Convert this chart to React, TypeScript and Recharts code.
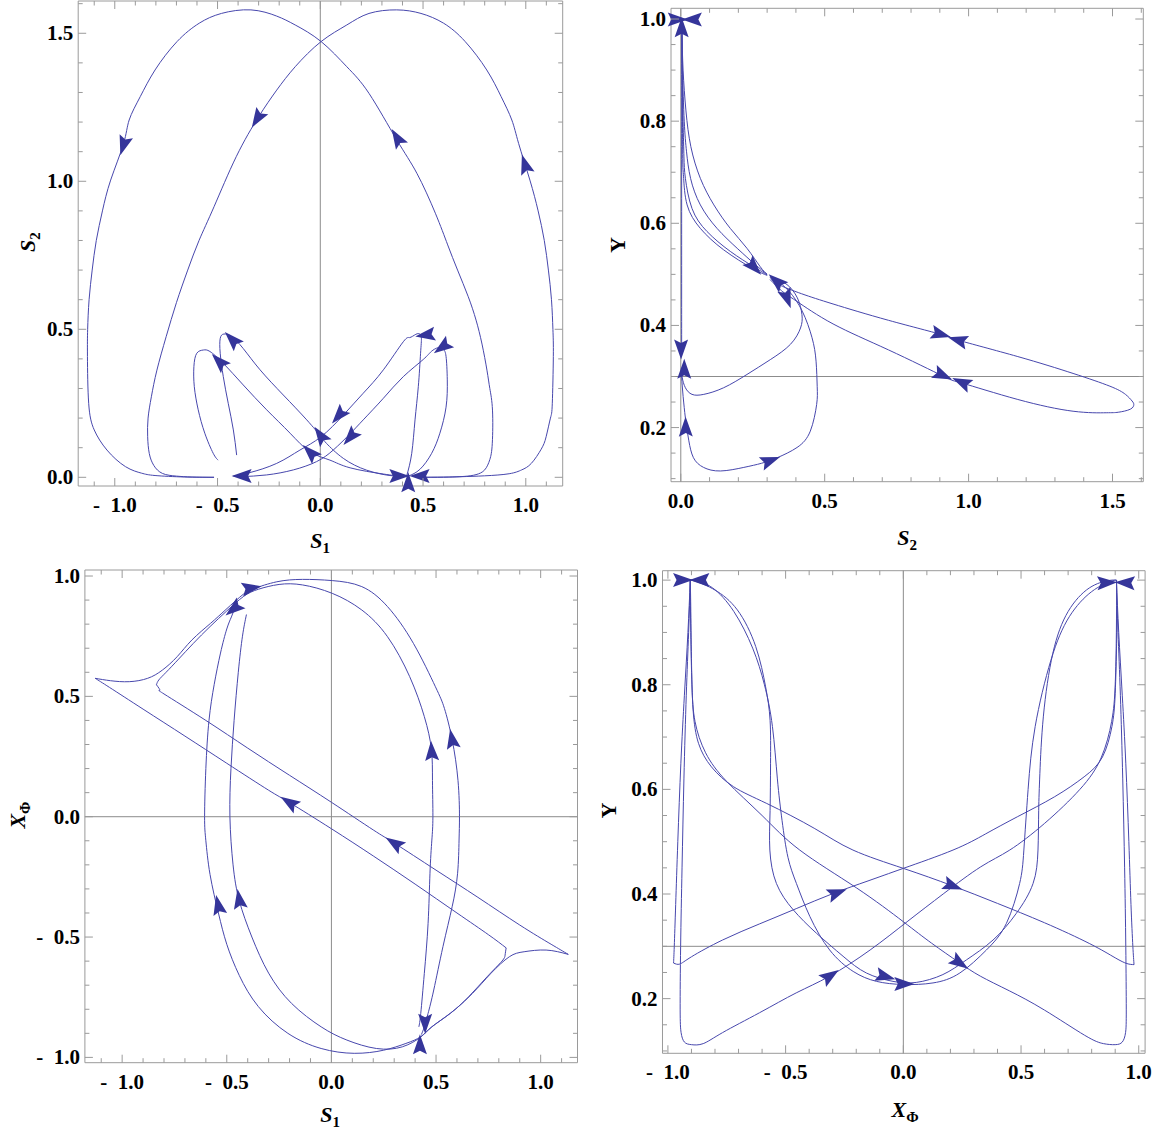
import React from 'react';
import { ComposedChart, Line, Scatter, XAxis, YAxis, ReferenceLine, ReferenceArea } from 'recharts';

type Pt = [number, number];
type Arrow = [number, number, number, number];

// ---------- Panel 1 : S1 vs S2 ----------
const P1_X_TICKS = [-1, -0.5, 0, 0.5, 1];
const P1_Y_TICKS = [0, 0.5, 1, 1.5];
const P1_LEFT_ARC: Pt[] = [[0.47,0],[0.6,0.0005],[0.7,0.003],[0.758,0.009],[0.8,0.025],[0.825,0.06],[0.837,0.115],[0.838,0.227],[0.825,0.3],[0.811,0.362],[0.787,0.45],[0.758,0.531],[0.72,0.61],[0.668,0.7],[0.62,0.785],[0.56,0.892],[0.47,1.027],[0.372,1.14],[0.237,1.297],[0.129,1.387],[0.004,1.472],[-0.122,1.528],[-0.212,1.558],[-0.3375,1.579],[-0.481,1.567],[-0.589,1.534],[-0.697,1.472],[-0.804,1.376],[-0.876,1.286],[-0.93,1.207],[-0.957,1.128],[-1.02,1.004],[-1.06,0.9],[-1.09,0.8],[-1.11,0.7],[-1.125,0.6],[-1.132,0.5],[-1.133,0.408],[-1.127,0.25],[-1.1,0.16],[-1.038,0.092],[-0.948,0.036],[-0.87,0.014],[-0.804,0.006],[-0.66,0.001],[-0.517,0]];
const P1_RIGHT_ARC: Pt[] = [[0.47,0],[0.6,0.0005],[0.686,0.002],[0.8,0.005],[0.919,0.012],[0.98,0.025],[1.027,0.047],[1.075,0.095],[1.099,0.137],[1.12,0.2],[1.129,0.25],[1.134,0.408],[1.132,0.5],[1.125,0.6],[1.11,0.7],[1.09,0.8],[1.06,0.9],[1.02,1.004],[0.965,1.128],[0.932,1.207],[0.88,1.286],[0.81,1.376],[0.705,1.472],[0.6,1.534],[0.49,1.567],[0.372,1.579],[0.237,1.567],[0.129,1.528],[0.004,1.472],[-0.122,1.387],[-0.212,1.308],[-0.3,1.218],[-0.409,1.083],[-0.517,0.914],[-0.59,0.8],[-0.645,0.7],[-0.7,0.59],[-0.75,0.475],[-0.795,0.362],[-0.822,0.272],[-0.838,0.2],[-0.84,0.137],[-0.832,0.08],[-0.81,0.04],[-0.768,0.013],[-0.7,0.004],[-0.625,0.001],[-0.517,0]];
const P1_RR1: Pt[] = [[0.42,0.004],[0.445,0.081],[0.461,0.194],[0.477,0.306],[0.488,0.419],[0.492,0.47],[0.484,0.484],[0.465,0.483],[0.435,0.472],[0.404,0.458],[0.307,0.363],[0.209,0.284],[0.112,0.21],[0.004,0.137],[-0.099,0.092],[-0.212,0.047],[-0.342,0.016],[-0.423,0.004]];
const P1_RR2: Pt[] = [[0.428,0.004],[0.485,0.027],[0.542,0.081],[0.582,0.149],[0.612,0.237],[0.618,0.329],[0.612,0.408],[0.599,0.432],[0.575,0.438],[0.54,0.425],[0.501,0.398],[0.404,0.34],[0.307,0.267],[0.209,0.194],[0.145,0.147],[0.063,0.092],[-0.018,0.053],[-0.131,0.025],[-0.261,0.008],[-0.39,0.002]];
const P1_LL1: Pt[] = [[0.412,0.004],[0.339,0.006],[0.226,0.024],[0.112,0.064],[0.031,0.114],[0.004,0.137],[-0.066,0.194],[-0.18,0.278],[-0.293,0.363],[-0.375,0.435],[-0.431,0.475],[-0.469,0.484],[-0.487,0.469],[-0.487,0.419],[-0.472,0.34],[-0.448,0.25],[-0.423,0.16],[-0.407,0.075]];
const P1_LL2: Pt[] = [[0.404,0.002],[0.307,0.011],[0.145,0.032],[0.047,0.058],[-0.05,0.086],[-0.147,0.149],[-0.261,0.228],[-0.375,0.312],[-0.472,0.385],[-0.537,0.425],[-0.569,0.43],[-0.601,0.419],[-0.615,0.374],[-0.613,0.306],[-0.594,0.228],[-0.562,0.149],[-0.521,0.081],[-0.497,0.058]];
const P1_ARROWS: Arrow[] = [[-0.957,1.123,-0.09,-0.2],[-0.305,1.213,-0.2,-0.225],[0.375,1.145,-0.233,0.27],[0.997,1.055,-0.09,0.2],[-0.378,0.004,-1,0],[0.38,0.004,1,0],[0.488,0.004,-1,0],[0.428,-0.02,0,1],[0.002,0.14,-0.1,0.1],[-0.047,0.083,-0.1,0.07],[0.092,0.21,-0.1,-0.08],[0.148,0.137,-0.1,-0.08],[-0.49,0.39,-0.1,0.07],[-0.427,0.464,-0.056,0.04],[0.515,0.481,-1,-0.1],[0.596,0.441,-1,-0.5]];

// ---------- Panel 2 : S2 vs Y ----------
const P2_X_TICKS = [0, 0.5, 1, 1.5];
const P2_Y_TICKS = [0.2, 0.4, 0.6, 0.8, 1.0];
const P2_V: Pt[] = [[0.003,0.975],[0.003,0.8],[0.003,0.6],[0.003,0.45],[0.003,0.345]];
const P2_C1: Pt[] = [[0.004,0.975],[0.008,0.9],[0.018,0.82],[0.035,0.75],[0.068,0.688],[0.115,0.636],[0.172,0.59],[0.23,0.551],[0.276,0.515],[0.3,0.5]];
const P2_C2: Pt[] = [[0.004,0.975],[0.006,0.9],[0.012,0.8],[0.02,0.74],[0.034,0.688],[0.068,0.636],[0.126,0.59],[0.196,0.551],[0.259,0.519],[0.3,0.5]];
const P2_C3: Pt[] = [[0.004,0.975],[0.005,0.9],[0.008,0.8],[0.011,0.73],[0.016,0.688],[0.039,0.629],[0.091,0.584],[0.172,0.545],[0.253,0.515],[0.3,0.499]];
const P2_C4: Pt[] = [[0.004,0.975],[0.005,0.9],[0.006,0.8],[0.007,0.72],[0.01,0.688],[0.022,0.636],[0.068,0.59],[0.149,0.548],[0.248,0.512],[0.3,0.498]];
const P2_BIG_LOOP: Pt[] = [[0.31,0.495],[0.337,0.481],[0.42,0.462],[0.529,0.442],[0.722,0.41],[0.914,0.381],[0.965,0.371],[1.171,0.339],[1.363,0.306],[1.491,0.281],[1.545,0.265],[1.568,0.252],[1.574,0.245],[1.562,0.236],[1.52,0.23],[1.478,0.229],[1.363,0.232],[1.171,0.255],[0.978,0.287],[0.914,0.3],[0.722,0.352],[0.529,0.403],[0.401,0.448],[0.35,0.468],[0.31,0.49]];
const P2_SMALL_LOOP: Pt[] = [[0.33,0.49],[0.369,0.48],[0.405,0.454],[0.421,0.421],[0.416,0.395],[0.381,0.363],[0.311,0.333],[0.23,0.304],[0.149,0.278],[0.08,0.265],[0.039,0.265],[0.016,0.278],[0.005,0.298],[0.002,0.317]];
const P2_LOW_LOOP: Pt[] = [[0.33,0.49],[0.376,0.467],[0.422,0.428],[0.456,0.376],[0.47,0.33],[0.474,0.28],[0.472,0.245],[0.45,0.193],[0.404,0.161],[0.335,0.141],[0.28,0.13],[0.219,0.122],[0.138,0.115],[0.079,0.122],[0.044,0.141],[0.028,0.174],[0.018,0.21],[0.01,0.25],[0.004,0.29],[0.003,0.31]];
const P2_ARROWS: Arrow[] = [[-0.014,0.999,1,0],[0.042,0.999,-1,0],[0.003,0.982,0,1],[0.253,0.515,0.1,-0.06],[0.334,0.486,-0.1,0.05],[0.369,0.454,0.045,-0.07],[0.901,0.383,1,-0.158],[0.965,0.371,-1,0.158],[0.908,0.303,1,-0.254],[0.978,0.288,-1,0.254],[0.001,0.355,0,-1],[0.012,0.313,0,1],[0.017,0.2,-0.02,1],[0.309,0.135,1,0.21]];

// ---------- Panel 3 : S1 vs X_Phi ----------
const P3_X_TICKS = [-1, -0.5, 0, 0.5, 1];
const P3_Y_TICKS = [-1, -0.5, 0, 0.5, 1];
const P3_A: Pt[] = [[0.43,-0.905],[0.444,-0.873],[0.462,-0.817],[0.489,-0.72],[0.533,-0.54],[0.577,-0.374],[0.603,-0.235],[0.61,-0.097],[0.612,0],[0.605,0.15],[0.577,0.32],[0.54,0.45],[0.497,0.54],[0.392,0.72],[0.268,0.873],[0.145,0.956],[0.004,0.981],[-0.138,0.986],[-0.261,0.976],[-0.367,0.949],[-0.42,0.925],[-0.504,0.861],[-0.578,0.803],[-0.667,0.734],[-0.737,0.665],[-0.808,0.609],[-0.878,0.575],[-0.966,0.561],[-1.055,0.565],[-1.129,0.575]];
const P3_B: Pt[] = [[-1.129,0.575],[-1.06,0.537],[-0.9,0.447],[-0.7,0.335],[-0.5,0.222],[-0.3,0.11],[-0.199,0.058],[0.0,-0.05],[0.2,-0.163],[0.4,-0.28],[0.6,-0.4],[0.75,-0.49],[0.835,-0.545]];
const P3_B2: Pt[] = [[0.835,-0.545],[0.83,-0.575],[0.815,-0.6],[0.744,-0.665],[0.656,-0.748],[0.568,-0.817],[0.48,-0.873],[0.427,-0.915],[0.339,-0.956],[0.215,-0.963],[0.074,-0.928],[-0.049,-0.873],[-0.19,-0.776],[-0.3,-0.65],[-0.38,-0.5],[-0.44,-0.35],[-0.47,-0.2],[-0.485,0],[-0.48,0.2],[-0.465,0.4],[-0.445,0.6],[-0.425,0.75],[-0.406,0.84]];
const P3_C: Pt[] = [[0.418,-0.873],[0.427,-0.817],[0.444,-0.651],[0.462,-0.443],[0.471,-0.235],[0.48,-0.097],[0.485,0],[0.483,0.15],[0.478,0.28],[0.444,0.416],[0.374,0.582],[0.268,0.748],[0.145,0.859],[0.004,0.928],[-0.138,0.963],[-0.25,0.965],[-0.349,0.945],[-0.42,0.915],[-0.5,0.855],[-0.58,0.79],[-0.66,0.72],[-0.73,0.655],[-0.79,0.6],[-0.825,0.568],[-0.836,0.548]];
const P3_D: Pt[] = [[-0.836,0.548],[-0.82,0.525],[-0.8,0.51],[-0.6,0.4],[-0.4,0.285],[-0.2,0.172],[0.0,0.06],[0.2,-0.055],[0.303,-0.111],[0.5,-0.222],[0.7,-0.335],[0.9,-0.45],[1.05,-0.53],[1.132,-0.572]];
const P3_E: Pt[] = [[1.132,-0.572],[1.026,-0.554],[0.921,-0.561],[0.85,-0.582],[0.762,-0.651],[0.674,-0.734],[0.568,-0.817],[0.48,-0.873],[0.427,-0.914],[0.356,-0.942],[0.25,-0.97],[0.109,-0.983],[-0.049,-0.963],[-0.208,-0.9],[-0.349,-0.789],[-0.44,-0.66],[-0.5,-0.53],[-0.54,-0.4],[-0.58,-0.24],[-0.6,-0.1],[-0.606,0],[-0.6,0.2],[-0.585,0.4],[-0.56,0.55],[-0.53,0.68],[-0.5,0.78],[-0.478,0.83],[-0.46,0.87]];
const P3_ARROWS: Arrow[] = [[-0.199,0.058,-1,0.55],[0.303,-0.111,-1,0.565],[-0.54,-0.37,-0.04,0.16],[-0.44,-0.345,-0.03,0.15],[0.479,0.27,-0.01,0.15],[0.577,0.32,-0.065,0.3],[-0.385,0.95,1,0.15],[-0.465,0.865,-1,-0.7],[0.448,-0.856,0,-1],[0.423,-0.949,0,1]];

// ---------- Panel 4 : X_Phi vs Y ----------
const P4_X_TICKS = [-1, -0.5, 0, 0.5, 1];
const P4_Y_TICKS = [0.2, 0.4, 0.6, 0.8, 1.0];
const P4_L1A: Pt[] = [[-0.905,1.0],[-0.915,0.9],[-0.93,0.78],[-0.945,0.65],[-0.958,0.5],[-0.967,0.38],[-0.973,0.3],[-0.976,0.268]];
const P4_L1B: Pt[] = [[-0.976,0.268],[-0.95,0.266],[-0.9,0.28],[-0.768,0.312],[-0.61,0.343],[-0.455,0.372],[-0.298,0.401],[-0.15,0.425],[0.0,0.449],[0.211,0.484],[0.35,0.515],[0.486,0.548],[0.643,0.586],[0.768,0.624],[0.846,0.662],[0.886,0.72],[0.9,0.783],[0.906,0.879],[0.907,0.927]];
const P4_L2: Pt[] = [[-0.905,1.0],[-0.912,0.9],[-0.922,0.78],[-0.932,0.62],[-0.94,0.45],[-0.946,0.3],[-0.948,0.18],[-0.944,0.135],[-0.93,0.117],[-0.9,0.112],[-0.85,0.114],[-0.768,0.135],[-0.611,0.173],[-0.455,0.211],[-0.313,0.243],[-0.141,0.293],[0.016,0.347],[0.172,0.401],[0.329,0.452],[0.452,0.484],[0.6,0.535],[0.75,0.6],[0.84,0.66],[0.885,0.73],[0.9,0.8],[0.905,0.9],[0.906,1.0]];
const P4_R1A: Pt[] = [[0.905,1.0],[0.915,0.9],[0.93,0.78],[0.945,0.65],[0.958,0.5],[0.967,0.38],[0.975,0.3],[0.98,0.265]];
const P4_R1B: Pt[] = [[0.98,0.265],[0.95,0.267],[0.9,0.278],[0.792,0.305],[0.6,0.345],[0.4,0.382],[0.207,0.416],[0.0,0.449],[-0.214,0.484],[-0.376,0.525],[-0.58,0.573],[-0.721,0.605],[-0.815,0.643],[-0.87,0.688],[-0.893,0.752],[-0.9,0.85],[-0.903,0.95],[-0.905,1.0]];
const P4_R2: Pt[] = [[0.905,1.0],[0.912,0.9],[0.922,0.78],[0.932,0.62],[0.94,0.45],[0.945,0.3],[0.947,0.18],[0.944,0.135],[0.93,0.117],[0.9,0.112],[0.85,0.114],[0.77,0.13],[0.6,0.178],[0.45,0.215],[0.327,0.243],[0.237,0.269],[0.12,0.306],[0.0,0.347],[-0.2,0.412],[-0.44,0.484],[-0.6,0.55],[-0.75,0.615],[-0.84,0.67],[-0.885,0.73],[-0.898,0.8],[-0.903,0.9],[-0.905,1.0]];
const P4_UA: Pt[] = [[-0.905,1.0],[-0.878,0.997],[-0.8,0.981],[-0.705,0.943],[-0.627,0.873],[-0.585,0.796],[-0.566,0.732],[-0.564,0.65],[-0.566,0.56],[-0.567,0.484],[-0.539,0.42],[-0.468,0.37],[-0.369,0.325],[-0.256,0.281],[-0.157,0.249],[-0.044,0.233],[0.055,0.231],[0.168,0.246],[0.268,0.274],[0.381,0.312],[0.48,0.363],[0.551,0.42],[0.572,0.484],[0.575,0.56],[0.58,0.63],[0.595,0.74],[0.635,0.86],[0.7,0.94],[0.79,0.985],[0.87,0.999],[0.905,1.0]];
const P4_UB: Pt[] = [[-0.905,1.0],[-0.88,0.999],[-0.81,0.985],[-0.72,0.94],[-0.64,0.87],[-0.59,0.8],[-0.556,0.72],[-0.535,0.62],[-0.515,0.54],[-0.49,0.47],[-0.454,0.42],[-0.397,0.357],[-0.313,0.293],[-0.213,0.252],[-0.114,0.233],[0.0,0.227],[0.126,0.23],[0.24,0.249],[0.353,0.293],[0.438,0.344],[0.494,0.42],[0.512,0.484],[0.53,0.6],[0.56,0.72],[0.627,0.847],[0.705,0.93],[0.8,0.978],[0.878,0.997],[0.905,1.0]];
const P4_ARROWS: Arrow[] = [[-0.94,1.0,1,0],[-0.862,1.0,-1,0],[0.862,0.995,1,0.02],[0.945,0.995,-1,0.02],[-0.284,0.402,1,0.167],[-0.313,0.243,1,0.3],[0.207,0.416,1,-0.171],[0.237,0.269,1,-0.3],[-0.079,0.2425,1,-0.12],[0.0,0.228,1,0]];

// ---------- styling ----------
const SERIF = "'Liberation Serif', 'Times New Roman', Times, serif";
const FRAME = '#9a9a9a';
const AXIS = '#8c8c8c';
const CURVE = '#4747ad';
const HEAD = '#35359a';

const toXY = (a: Pt[]) => a.map(([x, y]) => ({ x, y }));
const toArrows = (a: Arrow[]) => a.map(([x, y, dx, dy]) => ({ x, y, dx, dy }));
const steps = (a: number, b: number, s: number) => {
  const out: number[] = [];
  const n = Math.round((b - a) / s);
  for (let i = 0; i <= n; i++) out.push(+(a + i * s).toFixed(4));
  return out;
};
const has = (arr: number[], v: number) => arr.some((m) => Math.abs(m - v) < 1e-6);
const uniq = (arr: number[]) => arr.filter((v, i) => arr.findIndex((w) => Math.abs(w - v) < 1e-6) === i).sort((a, b) => a - b);
const fmt = (v: number) => (v < -1e-9 ? '-\u00a0\u00a0' + Math.abs(v).toFixed(1) : Math.abs(v).toFixed(1));

function AxisTitle(props: any) {
  const { tx, ty, vertical, main, sub, italic } = props;
  const fs = 22;
  if (vertical) {
    const X = tx + 7;
    return (
      <text x={X} y={ty} transform={`rotate(-90 ${X} ${ty})`} textAnchor="middle" fontFamily={SERIF} fontWeight={700} fontSize={fs} fill="#000">
        <tspan fontStyle={italic ? 'italic' : 'normal'}>{main}</tspan>
        {sub ? <tspan fontSize={15} dy={5}>{sub}</tspan> : null}
      </text>
    );
  }
  return (
    <text x={tx} y={ty} textAnchor="middle" fontFamily={SERIF} fontWeight={700} fontSize={fs} fill="#000">
      <tspan fontStyle={italic ? 'italic' : 'normal'}>{main}</tspan>
      {sub ? <tspan fontSize={15} dy={5}>{sub}</tspan> : null}
    </text>
  );
}

type Cfg = {
  box: { left: number; top: number; width: number; height: number };
  frame: { l: number; t: number; r: number; b: number };
  xDomain: [number, number];
  yDomain: [number, number];
  xMajor: number[];
  xMinor: number[];
  yMajor: number[];
  yMinor: number[];
  hLine?: number;
  curves: Pt[][];
  arrows: Arrow[];
  xTitle: any;
  yTitle: any;
};

const PANELS: Cfg[] = [
  {
    box: { left: 0, top: 0, width: 577, height: 560 },
    frame: { l: 78.2, t: 1, r: 562.7, b: 486 },
    xDomain: [-1.178, 1.1796], yDomain: [-0.0294, 1.609],
    xMajor: P1_X_TICKS, xMinor: steps(-1.1, 1.1, 0.1), yMajor: P1_Y_TICKS, yMinor: steps(0, 1.6, 0.1),
    curves: [P1_LEFT_ARC, P1_RIGHT_ARC, P1_RR1, P1_RR2, P1_LL1, P1_LL2],
    arrows: P1_ARROWS,
    xTitle: { tx: 320, ty: 548, main: 'S', sub: '1', italic: true },
    yTitle: { tx: 27.5, ty: 242, main: 'S', sub: '2', italic: true, vertical: true },
  },
  {
    box: { left: 577, top: 0, width: 578, height: 560 },
    frame: { l: 671, t: 8.3, r: 1143.3, b: 481.7 },
    xDomain: [-0.034, 1.607], yDomain: [0.094, 1.021],
    xMajor: P2_X_TICKS, xMinor: steps(0, 1.6, 0.1), yMajor: P2_Y_TICKS, yMinor: steps(0.1, 1.0, 0.05),
    hLine: 0.3,
    curves: [P2_V, P2_C1, P2_C2, P2_C3, P2_C4, P2_BIG_LOOP, P2_SMALL_LOOP, P2_LOW_LOOP],
    arrows: P2_ARROWS,
    xTitle: { tx: 330, ty: 545, main: 'S', sub: '2', italic: true },
    yTitle: { tx: 40.5, ty: 245, main: 'Y', vertical: true },
  },
  {
    box: { left: 0, top: 560, width: 580, height: 572 },
    frame: { l: 84.9, t: 570, r: 577.5, b: 1062.7 },
    xDomain: [-1.178, 1.176], yDomain: [-1.022, 1.025],
    xMajor: P3_X_TICKS, xMinor: steps(-1.1, 1.1, 0.1), yMajor: P3_Y_TICKS, yMinor: steps(-1.0, 1.0, 0.1),
    hLine: 0,
    curves: [P3_A, P3_B, P3_B2, P3_C, P3_D, P3_E],
    arrows: P3_ARROWS,
    xTitle: { tx: 330, ty: 562, main: 'S', sub: '1', italic: true },
    yTitle: { tx: 18, ty: 255, main: 'X', sub: 'Φ', italic: true, vertical: true },
  },
  {
    box: { left: 580, top: 560, width: 575, height: 572 },
    frame: { l: 662.5, t: 570.7, r: 1145.1, b: 1053.3 },
    xDomain: [-1.023, 1.027], yDomain: [0.0955, 1.018],
    xMajor: P4_X_TICKS, xMinor: steps(-1.0, 1.0, 0.1), yMajor: P4_Y_TICKS, yMinor: steps(0.1, 1.0, 0.05),
    hLine: 0.3,
    curves: [P4_L1A, P4_L1B, P4_L2, P4_R1A, P4_R1B, P4_R2, P4_UA, P4_UB],
    arrows: P4_ARROWS,
    xTitle: { tx: 325, ty: 557, main: 'X', sub: 'Φ', italic: true },
    yTitle: { tx: 28.5, ty: 250.5, main: 'Y', vertical: true },
  },
];

function Panel({ cfg }: { cfg: Cfg }) {
  const { box, frame, xDomain, yDomain } = cfg;
  const plotL = frame.l - box.left;
  const plotT = frame.t - box.top;
  const plotR = frame.r - box.left;
  const plotB = frame.b - box.top;
  const pw = plotR - plotL;
  const ph = plotB - plotT;
  const kx = pw / (xDomain[1] - xDomain[0]);
  const ky = ph / (yDomain[1] - yDomain[0]);
  const XH = 60;
  const margin = { top: plotT, right: box.width - plotR, bottom: box.height - plotB - XH, left: 0 };
  const xTicks = uniq([...cfg.xMajor, ...cfg.xMinor]).filter((v) => v >= xDomain[0] && v <= xDomain[1]);
  const yTicks = uniq([...cfg.yMajor, ...cfg.yMinor]).filter((v) => v >= yDomain[0] && v <= yDomain[1]);

  const renderXTick = (p: any) => {
    const x = p.x;
    const v = p.payload.value;
    const major = has(cfg.xMajor, v);
    const len = major ? 8 : 4.5;
    return (
      <g>
        <line x1={x} x2={x} y1={plotB} y2={plotB - len} stroke={FRAME} strokeWidth={1} />
        <line x1={x} x2={x} y1={plotT} y2={plotT + len} stroke={FRAME} strokeWidth={1} />
        {major ? (
          <text x={x} y={plotB + 26} textAnchor="middle" fontFamily={SERIF} fontWeight={700} fontSize={21} fill="#000">{fmt(v)}</text>
        ) : null}
      </g>
    );
  };
  const renderYTick = (p: any) => {
    const y = p.y;
    const v = p.payload.value;
    const major = has(cfg.yMajor, v);
    const len = major ? 8 : 4.5;
    return (
      <g>
        <line x1={plotL} x2={plotL + len} y1={y} y2={y} stroke={FRAME} strokeWidth={1} />
        <line x1={plotR} x2={plotR - len} y1={y} y2={y} stroke={FRAME} strokeWidth={1} />
        {major ? (
          <text x={plotL - 5} y={y + 7} textAnchor="end" fontFamily={SERIF} fontWeight={700} fontSize={21} fill="#000">{fmt(v)}</text>
        ) : null}
      </g>
    );
  };
  const headShape = (p: any) => {
    const { cx, cy, payload } = p;
    if (cx == null || cy == null || !payload) return <g />;
    const ang = (Math.atan2(-payload.dy * ky, payload.dx * kx) * 180) / Math.PI;
    return <path d="M11,0 L-9,-7 L-5.5,0 L-9,7 Z" fill={HEAD} transform={`translate(${cx},${cy}) rotate(${ang})`} />;
  };

  return (
    <div style={{ position: 'absolute', left: box.left, top: box.top, width: box.width, height: box.height }}>
      <ComposedChart width={box.width} height={box.height} margin={margin}>
        <XAxis
          type="number" dataKey="x" domain={xDomain} ticks={xTicks} interval={0}
          tickSize={0} tickMargin={0} axisLine={false} tickLine={false} height={XH}
          tick={renderXTick} label={<AxisTitle {...cfg.xTitle} />}
        />
        <YAxis
          type="number" domain={yDomain} ticks={yTicks} interval={0}
          tickSize={0} tickMargin={0} axisLine={false} tickLine={false} width={plotL}
          tick={renderYTick} label={<AxisTitle {...cfg.yTitle} />}
        />
        <ReferenceArea x1={xDomain[0]} x2={xDomain[1]} y1={yDomain[0]} y2={yDomain[1]} fill="none" fillOpacity={0} stroke={FRAME} strokeWidth={1} />
        <ReferenceLine x={0} stroke={AXIS} strokeWidth={1} />
        {cfg.hLine !== undefined ? <ReferenceLine y={cfg.hLine} stroke={AXIS} strokeWidth={1} /> : null}
        {cfg.curves.map((c, i) => (
          <Line key={'c' + i} data={toXY(c)} dataKey="y" type="natural" stroke={CURVE} strokeWidth={1} dot={false} activeDot={false} isAnimationActive={false} />
        ))}
        <Scatter data={toArrows(cfg.arrows)} dataKey="y" shape={headShape} isAnimationActive={false} />
      </ComposedChart>
    </div>
  );
}

export default function App() {
  return (
    <div style={{ position: 'absolute', left: 0, top: 0, width: 1155, height: 1132, background: '#fff' }}>
      {PANELS.map((cfg, i) => (
        <Panel key={i} cfg={cfg} />
      ))}
    </div>
  );
}
